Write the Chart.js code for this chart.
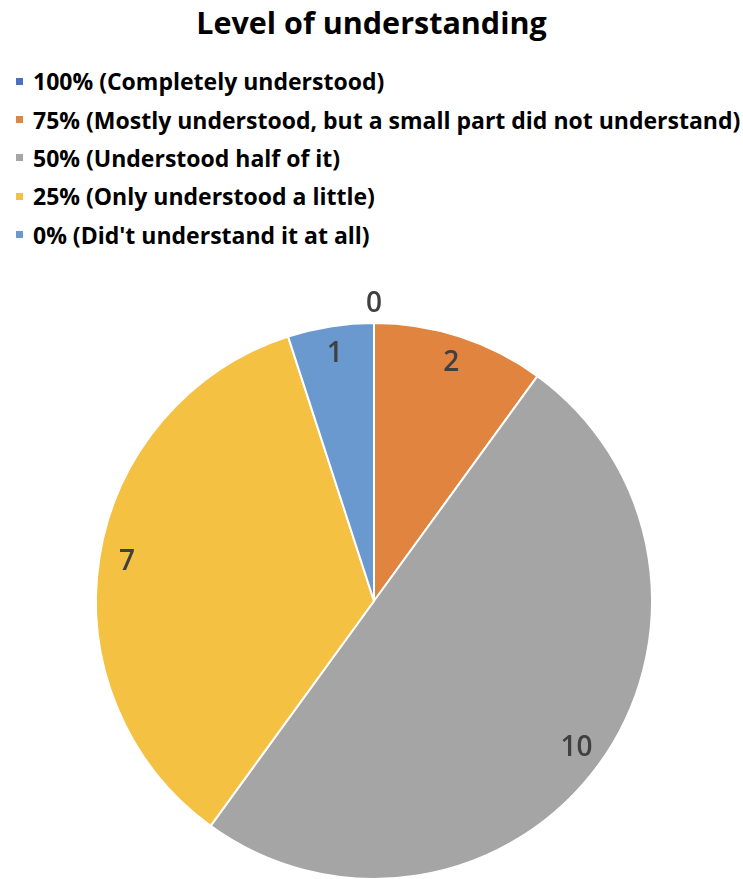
<!DOCTYPE html>
<html>
<head>
<meta charset="utf-8">
<title>Level of understanding</title>
<script src="https://cdn.jsdelivr.net/npm/chart.js"></script>
<style>
    html, body {
        margin: 0;
        padding: 0;
        background: #fff;
        width: 743px;
        height: 879px;
        overflow: hidden;
        font-family: "Open Sans", "Noto Sans", sans-serif;
    }
    #title {
        position: absolute;
        top: 7px;
        left: 0;
        width: 743px;
        text-align: center;
        font-size: 30.5px;
        line-height: 30px;
        font-weight: 700;
        color: #000;
    }
    #legend {
        position: absolute;
        top: 62px;
        left: 16px;
        margin: 0;
        padding: 0;
        list-style: none;
    }
    #legend li {
        display: flex;
        align-items: center;
        height: 38.4px;
        font-size: 23px;
        font-weight: 700;
        color: #000;
        white-space: nowrap;
    }
    #legend li span {
        display: inline-block;
        width: 7px;
        height: 7px;
        margin-right: 10px;
    }
    #pieBox {
        position: absolute;
        top: 270px;
        left: 0;
        width: 743px;
        height: 630px;
    }
</style>
</head>
<body>
<div id="title">Level of understanding</div>
<ul id="legend"></ul>
<div id="pieBox"><canvas id="levelChart"></canvas></div>
<script>
// chart data
const categories = [
    '100% (Completely understood)',
    '75% (Mostly understood, but a small part did not understand)',
    '50% (Understood half of it)',
    '25% (Only understood a little)',
    "0% (Did't understand it at all)"
];
const counts = [0, 2, 10, 7, 1];
const sliceColors = ['#4a72c0', '#e0843f', '#a5a5a5', '#f4c142', '#6a99d0'];

document.addEventListener('DOMContentLoaded', function () {
    const ctx = document.getElementById('levelChart');
    if (!ctx || typeof Chart === 'undefined') {
        console.error('Chart.js or canvas missing');
        return;
    }

    // value labels just inside the rim, zero slices go outside
    const sliceLabels = {
        id: 'sliceLabels',
        afterDatasetsDraw(chart) {
            const c = chart.ctx;
            const meta = chart.getDatasetMeta(0);
            c.save();
            c.font = '600 28px "Open Sans", "Noto Sans", sans-serif';
            c.fillStyle = '#404040';
            c.textAlign = 'center';
            c.textBaseline = 'middle';
            meta.data.forEach(function (arc, i) {
                const p = arc.getProps(['x', 'y', 'startAngle', 'endAngle', 'outerRadius'], true);
                const mid = (p.startAngle + p.endAngle) / 2;
                const r = counts[i] === 0 ? p.outerRadius + 19 : p.outerRadius * 0.9;
                c.fillText(String(counts[i]), p.x + Math.cos(mid) * r, p.y + Math.sin(mid) * r);
            });
            c.restore();
        }
    };

    const chart = new Chart(ctx, {
        type: 'pie',
        data: {
            labels: categories,
            datasets: [{
                data: counts,
                backgroundColor: sliceColors,
                borderColor: '#ffffff',
                borderWidth: 2
            }]
        },
        options: {
            responsive: true,
            maintainAspectRatio: false,
            animation: false,
            layout: { padding: { top: 52, bottom: 20, left: 5, right: 0 } },
            plugins: {
                legend: { display: false },
                title: { display: false },
                tooltip: { enabled: false }
            }
        },
        plugins: [sliceLabels]
    });

    // html legend, one item per row
    const ul = document.getElementById('legend');
    chart.data.labels.forEach(function (label, i) {
        const li = document.createElement('li');
        const box = document.createElement('span');
        box.style.background = sliceColors[i];
        li.appendChild(box);
        li.appendChild(document.createTextNode(label));
        ul.appendChild(li);
    });
});
</script>
</body>
</html>
